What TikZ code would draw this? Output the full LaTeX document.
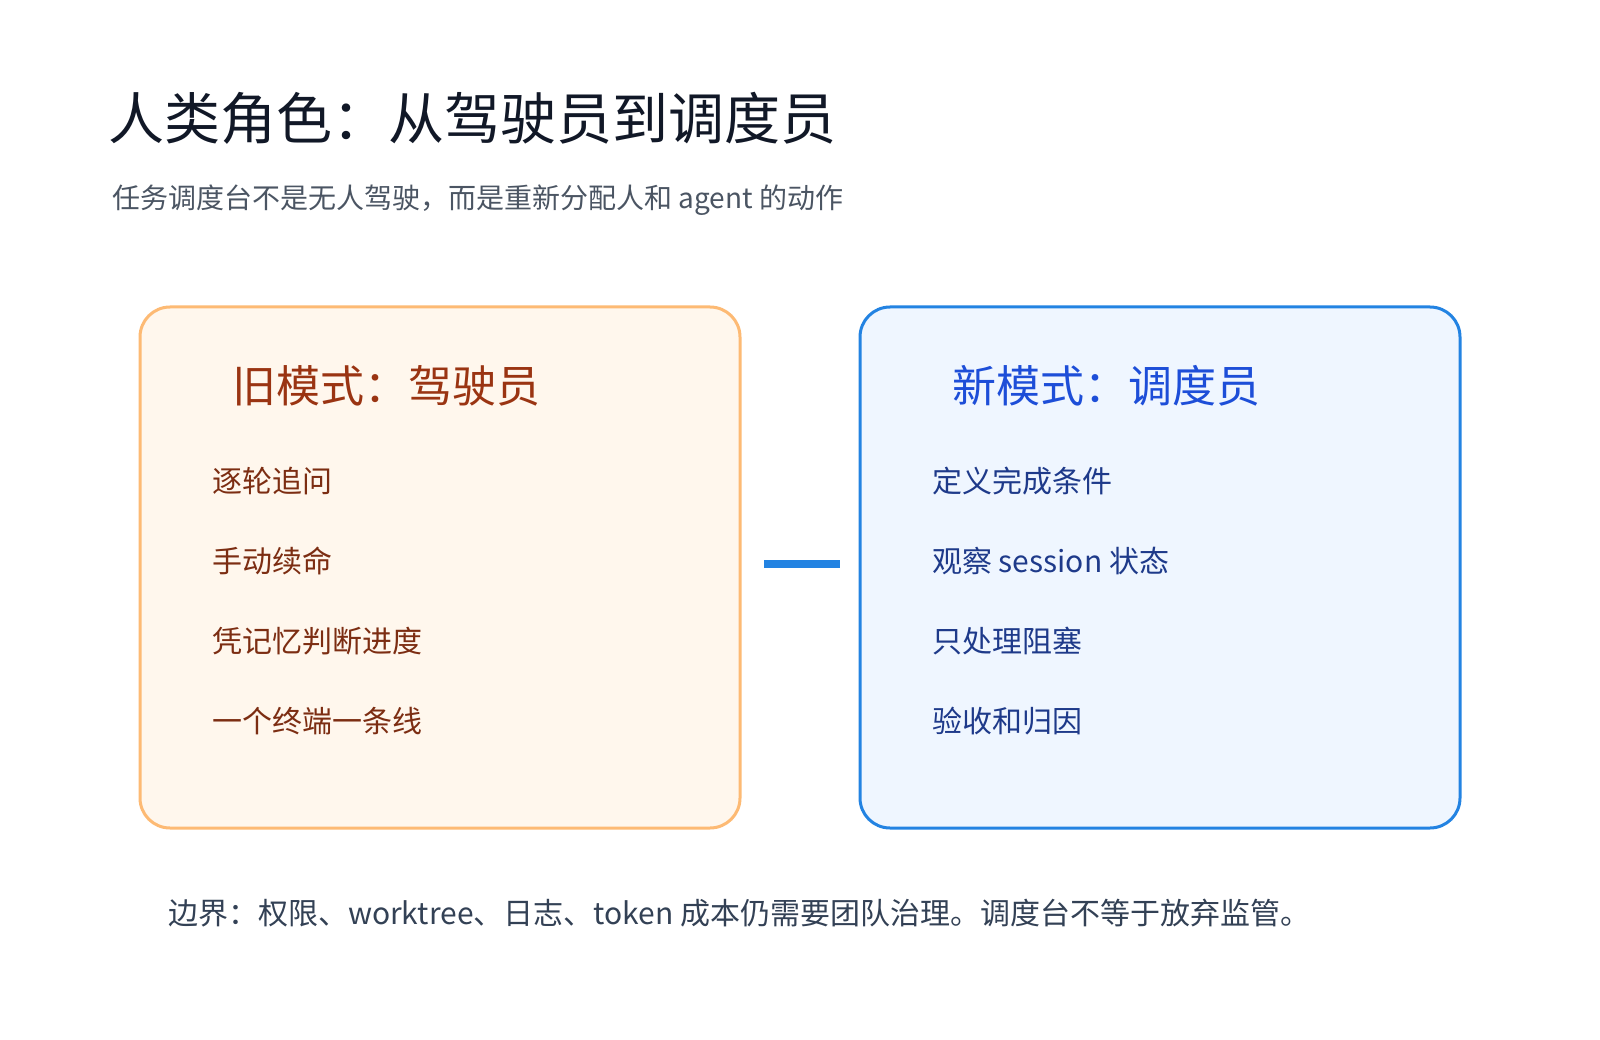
\documentclass[tikz,border=0pt]{standalone}
\usepackage{fontspec}
\setmainfont{Noto Sans CJK SC}
\begin{document}
\begin{tikzpicture}[x=1pt,y=-1pt,
  txt/.style={anchor=base west,inner sep=0pt},
  panel/.style={draw,line width=3pt,rounded corners=30pt,minimum width=600pt,minimum height=521pt,inner sep=0pt},
  heading/.style={txt,font=\fontsize{44}{52}\selectfont},
  item/.style={txt,font=\fontsize{30}{36}\selectfont}]
\definecolor{titlec}{HTML}{111827}
\definecolor{subc}{HTML}{4B5563}
\definecolor{notec}{HTML}{334155}
\definecolor{oldfill}{HTML}{FFF7ED}
\definecolor{oldline}{HTML}{FDBA74}
\definecolor{oldhead}{HTML}{9A3412}
\definecolor{olditem}{HTML}{7C2D12}
\definecolor{newfill}{HTML}{EFF6FF}
\definecolor{newline}{HTML}{2383E2}
\definecolor{newhead}{HTML}{1D4ED8}
\definecolor{newitem}{HTML}{1E3A8A}
\useasboundingbox[fill=white] (0,0) rectangle (1600,1040);
\node[txt,font=\fontsize{56}{64}\selectfont,text=titlec] (title) at (108,140) {人类角色：从驾驶员到调度员};
\node[txt,font=\fontsize{28}{34}\selectfont,text=subc] (sub) at (112,209) {任务调度台不是无人驾驶，而是重新分配人和 agent 的动作};
\node[panel,fill=oldfill,draw=oldline] (old) at (440,567.5) {};
\node[panel,fill=newfill,draw=newline] (new) at (1160,567.5) {};
\node[heading,text=oldhead] (oldh) at (232,402) {旧模式：驾驶员};
\node[item,text=olditem] (o1) at (212,492) {逐轮追问};
\node[item,text=olditem] (o2) at (212,572) {手动续命};
\node[item,text=olditem] (o3) at (212,652) {凭记忆判断进度};
\node[item,text=olditem] (o4) at (212,732) {一个终端一条线};
\node[heading,text=newhead] (newh) at (952,402) {新模式：调度员};
\node[item,text=newitem] (n1) at (932,492) {定义完成条件};
\node[item,text=newitem] (n2) at (932,572) {观察 session 状态};
\node[item,text=newitem] (n3) at (932,652) {只处理阻塞};
\node[item,text=newitem] (n4) at (932,732) {验收和归因};
\coordinate (ca) at (764,564);
\coordinate (cb) at (840,564);
\draw[newline,line width=8pt] (ca) -- (cb);
\node[txt,font=\fontsize{30}{36}\selectfont,text=notec] (note) at (168,924) {边界：权限、worktree、日志、token 成本仍需要团队治理。调度台不等于放弃监管。};
\end{tikzpicture}
\end{document}
